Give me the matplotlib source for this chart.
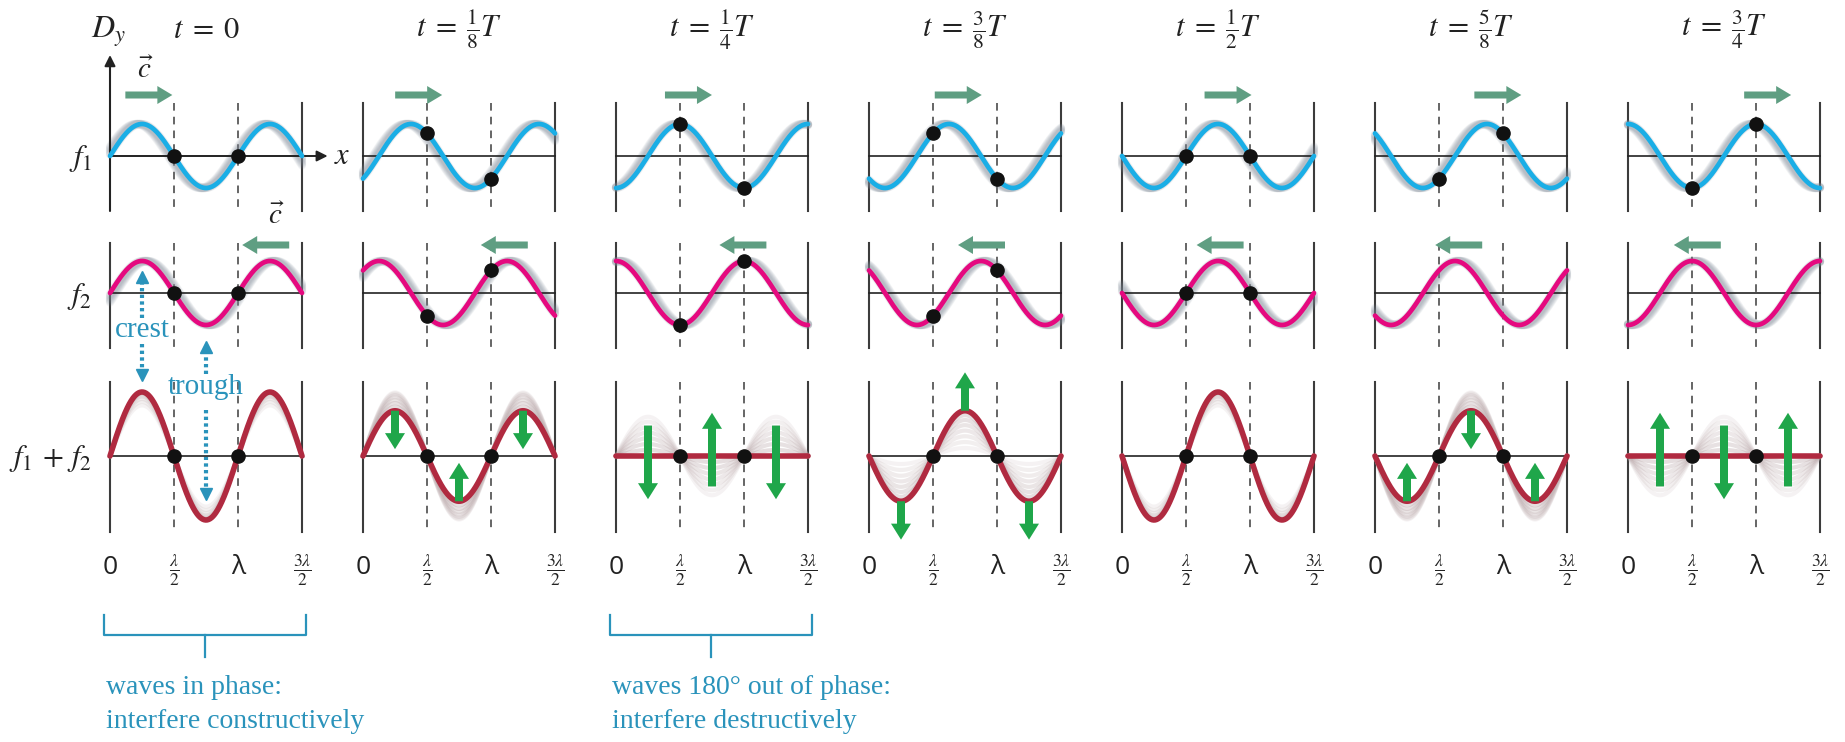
import numpy as np
import matplotlib
matplotlib.use('Agg')
import matplotlib.pyplot as plt
from matplotlib.patches import FancyArrow

plt.rcParams['mathtext.fontset'] = 'stix'

# ---------------- data ----------------
times = [0, 1/8, 1/4, 3/8, 1/2, 5/8, 3/4]          # in units of the period T
time_labels = [r'$t\;=\;0$', r'$t\;=\;\frac{1}{8}T$', r'$t\;=\;\frac{1}{4}T$',
               r'$t\;=\;\frac{3}{8}T$', r'$t\;=\;\frac{1}{2}T$', r'$t\;=\;\frac{5}{8}T$',
               r'$t\;=\;\frac{3}{4}T$']
row_labels = [r'$f_1$', r'$f_2$', r'$f_1\,+\,f_2$']
tick_values = [0, 0.5, 1.0, 1.5]                   # in units of wavelength
tick_labels = ['0', r'$\frac{\lambda}{2}$', 'λ', r'$\frac{3\lambda}{2}$']
dot_positions = [0.5, 1.0]                          # marked points (wavelengths)
f2_dots_shown = [True, True, True, True, True, False, False]
amplitude = 1.0
crest_text = 'crest'
trough_text = 'trough'
bracket_cols = [0, 2]
bracket_texts = [['waves in phase:', 'interfere constructively'],
                 ['waves 180° out of phase:', 'interfere destructively']]

# ---------------- layout (pixels) ----------------
W, H = 1845, 742
X0, COL, LAM, A = 110, 253, 128, 32
ROW_Y = [156, 293, 456]
ROW_EXT = [(103, 211), (243, 348), (382, 532)]

C_F1 = '#1aaee6'
C_F2 = '#e5097f'
C_SUM = '#b02a40'
C_TEAL = '#5f9e82'
C_GREEN = '#1fa64a'
C_BLUE = '#2a93bb'
C_LINE = '#3c3c3c'

fig = plt.figure(figsize=(W / 100, H / 100), dpi=100)
ax = fig.add_axes([0, 0, 1, 1])
ax.set_xlim(0, W)
ax.set_ylim(H, 0)
ax.axis('off')


def px(col, xl):
    return X0 + col * COL + xl * LAM


def py(row, v):
    return ROW_Y[row] - v * A


def f1(x, t):
    return amplitude * np.sin(2 * np.pi * (x - t))


def f2(x, t):
    return amplitude * np.sin(2 * np.pi * (x + t))


def fs(x, t):
    return f1(x, t) + f2(x, t)


xs = np.linspace(0, 1.5, 400)
funcs = [f1, f2, fs]
colors = [C_F1, C_F2, C_SUM]

for c, t in enumerate(times):
    # title
    ax.text(px(c, 0.75), 30, time_labels[c], ha='center', va='center', fontsize=22, color='#222')
    for r in range(3):
        y0, y1 = ROW_EXT[r]
        # vertical guide lines
        if not (c == 0 and r == 0):
            ax.plot([px(c, 0), px(c, 0)], [y0, y1], color=C_LINE, lw=1.5, zorder=1)
        ax.plot([px(c, 1.5), px(c, 1.5)], [y0, y1], color=C_LINE, lw=1.5, zorder=1)
        for xl in dot_positions:
            ax.plot([px(c, xl), px(c, xl)], [y0, y1], color=C_LINE, lw=1.1,
                    linestyle=(0, (5, 4)), zorder=1)
        # ghosts
        f = funcs[r]
        if r < 2:
            for j in range(1, 9):
                tt = t - j * 0.006
                ax.plot(px(c, xs), py(r, f(xs, tt)), color='#7d8896', alpha=0.09,
                        lw=6, solid_capstyle='round', zorder=2)
        else:
            for j in range(1, 8):
                tt = t - j * 0.015
                ax.plot(px(c, xs), py(r, f(xs, tt)), color='#bba9ab',
                        alpha=0.42 - 0.04 * j, lw=3, zorder=2)
        # axis line
        if c == 0 and r == 0:
            ax.annotate('', xy=(px(0, 1.7), py(0, 0)), xytext=(px(0, 0), py(0, 0)),
                        arrowprops=dict(arrowstyle='-|>', color='#222', lw=1.4,
                                        shrinkA=0, shrinkB=0, mutation_scale=16), zorder=3)
        else:
            ax.plot([px(c, 0), px(c, 1.5)], [py(r, 0), py(r, 0)], color='#222', lw=1.2, zorder=3)
        # curve
        ax.plot(px(c, xs), py(r, f(xs, t)), color=colors[r], lw=3.4 if r < 2 else 4.0,
                solid_capstyle='round', zorder=4)
        # dots
        if r == 0 or (r == 1 and f2_dots_shown[c]) or r == 2:
            for xl in dot_positions:
                ax.plot(px(c, xl), py(r, f(np.array(xl), t)), 'o', color='#111',
                        markersize=9.5, zorder=6)

    # propagation arrows (c vector)
    tail1 = 0.12 + 1.05 * t
    ax.add_patch(FancyArrow(px(c, tail1), 95, 47, 0, width=7, head_width=18, head_length=15,
                            length_includes_head=True, color=C_TEAL, lw=0, zorder=5))
    tail2 = 1.40 - 0.90 * t
    ax.add_patch(FancyArrow(px(c, tail2), 245, -47, 0, width=7, head_width=18, head_length=15,
                            length_includes_head=True, color=C_TEAL, lw=0, zorder=5))

    # velocity arrows on the sum
    s_t, c_t = np.sin(2 * np.pi * t), np.cos(2 * np.pi * t)
    if abs(s_t) > 1e-9:
        for xl in [0.25, 0.75, 1.25]:
            sx = np.sin(2 * np.pi * xl)
            cur = 2 * amplitude * sx * c_t
            d = np.sign(-sx * s_t)
            if abs(c_t) < 1e-9:
                start, end = -d * 0.95, d * 1.35
            else:
                start, end = cur, cur + d * 1.2
            ax.add_patch(FancyArrow(px(c, xl), py(2, start), 0, py(2, end) - py(2, start),
                                    width=8, head_width=20, head_length=16,
                                    length_includes_head=True, color=C_GREEN, lw=0, zorder=7))

    # x tick labels
    for v, lab in zip(tick_values, tick_labels):
        if lab.startswith('$'):
            ax.text(px(c, v), 570, lab, ha='center', va='center', fontsize=18, color='#222')
        else:
            ax.text(px(c, v), 568, lab, ha='center', va='center', fontsize=19,
                    family='Open Sans', color='#222')

# D_y axis and labels in first panel
ax.annotate('', xy=(px(0, 0), 55), xytext=(px(0, 0), ROW_EXT[0][1]),
            arrowprops=dict(arrowstyle='-|>', color='#222', lw=1.5, shrinkA=0, shrinkB=0,
                            mutation_scale=16), zorder=3)
ax.text(px(0, 0) - 2, 32, r'$D_y$', ha='center', va='center', fontsize=23, color='#222')
ax.text(px(0, 1.7) + 6, py(0, 0), r'$x$', ha='left', va='center', fontsize=22, color='#222')
ax.text(px(0, 0.28), 70, r'$\vec{c}$', ha='center', va='center', fontsize=21, color='#222')
ax.text(px(0, 1.3), 216, r'$\vec{c}$', ha='center', va='center', fontsize=21, color='#222')

for r in range(3):
    ax.text(92, py(r, 0) + 3, row_labels[r], ha='right', va='center', fontsize=22, color='#222')

# crest / trough annotations
xc = px(0, 0.25)
ax.text(xc, 330, crest_text, ha='center', va='center', fontsize=21,
        family='Liberation Serif', color=C_BLUE)
ax.plot([xc, xc], [318, 282], color=C_BLUE, lw=3, linestyle=(0, (0.8, 0.8)))
ax.plot(xc, 277, marker='^', color=C_BLUE, markersize=8)
ax.plot([xc, xc], [344, 370], color=C_BLUE, lw=3, linestyle=(0, (0.8, 0.8)))
ax.plot(xc, 375, marker='v', color=C_BLUE, markersize=8)
xt = px(0, 0.75)
ax.text(xt, 387, trough_text, ha='center', va='center', fontsize=21,
        family='Liberation Serif', color=C_BLUE)
ax.plot([xt, xt], [374, 352], color=C_BLUE, lw=3, linestyle=(0, (0.8, 0.8)))
ax.plot(xt, 347, marker='^', color=C_BLUE, markersize=8)
ax.plot([xt, xt], [410, 488], color=C_BLUE, lw=3, linestyle=(0, (0.8, 0.8)))
ax.plot(xt, 494, marker='v', color=C_BLUE, markersize=8)

# brackets + captions
for bc, lines in zip(bracket_cols, bracket_texts):
    l, rgt = px(bc, 0) - 6, px(bc, 1.5) + 4
    ax.plot([l, l, rgt, rgt], [615, 635, 635, 615], color=C_BLUE, lw=1.6)
    ax.plot([(l + rgt) / 2] * 2, [635, 657], color=C_BLUE, lw=1.6)
    ax.text(l + 2, 687, lines[0], ha='left', va='center', fontsize=20,
            family='Liberation Serif', color=C_BLUE)
    ax.text(l + 2, 722, lines[1], ha='left', va='center', fontsize=20,
            family='Liberation Serif', color=C_BLUE)

fig.savefig('out.png', dpi=100)
